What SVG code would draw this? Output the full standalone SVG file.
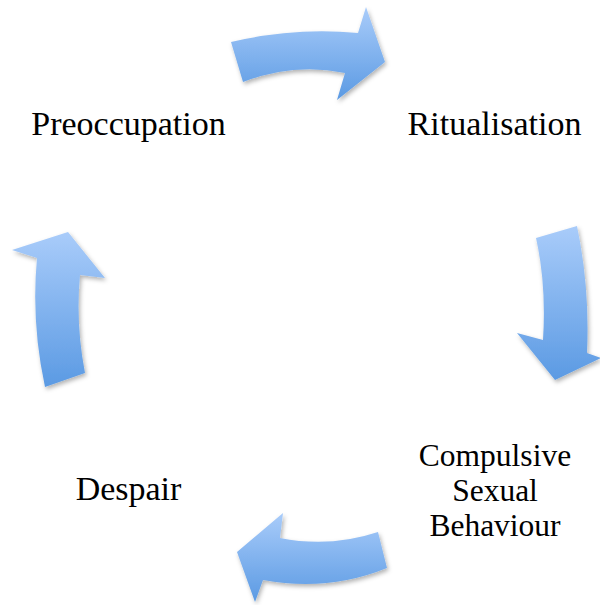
<svg xmlns="http://www.w3.org/2000/svg" width="600" height="605" viewBox="0 0 600 605">
<defs>
<linearGradient id="g" x1="0" y1="0" x2="0" y2="1">
<stop offset="0" stop-color="#a9ccfa"/>
<stop offset="1" stop-color="#5b9ae3"/>
</linearGradient>
<filter id="sh" x="-20%" y="-20%" width="140%" height="140%">
<feDropShadow dx="1.5" dy="2.5" stdDeviation="2" flood-color="#000" flood-opacity="0.3"/>
</filter>
<style>
.arr{fill:url(#g);filter:url(#sh);}
.lbl{font-family:"Liberation Serif","DejaVu Serif",serif;font-size:34px;fill:#000;text-anchor:middle;}
.sm{font-size:31.5px;}
</style>
</defs>
<rect width="600" height="605" fill="#fff"/>
<g id="connectors">
<path class="arr" d="M231,42 Q295,27 358,33 L366,7 L385,62 L337,100 L345,73 Q294,62.5 243,82 Z"/>
<path class="arr" d="M536,238 L577,226 Q590,288 587,353 L601,358 L555,380 L517,333 L543,340 Q546.5,285 536,238 Z"/>
<path class="arr" d="M378,532 L387,568 Q328,592 263,580 L255,602 L237,552 L283,513 L280,538 Q330,548 378,532 Z"/>
<path class="arr" d="M45,387 L85,373 Q75.5,324 80,275 L105,278 L68,232 L12,250 L37,258 Q31,322 45,387 Z"/>
</g>
<g id="preoccupation"><text class="lbl" x="128.5" y="135">Preoccupation</text></g>
<g id="ritualisation"><text class="lbl" x="494.5" y="135">Ritualisation</text></g>
<g id="compulsive"><text class="lbl sm" x="495" y="466">Compulsive</text><text class="lbl sm" x="495" y="501">Sexual</text><text class="lbl sm" x="495" y="536">Behaviour</text></g>
<g id="despair"><text class="lbl" x="128.5" y="500">Despair</text></g>
</svg>
